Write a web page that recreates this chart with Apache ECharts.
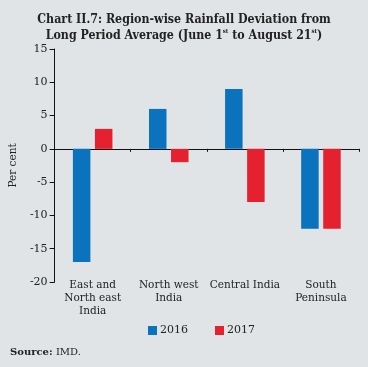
<!DOCTYPE html>
<html><head><meta charset="utf-8">
<script src="https://cdn.jsdelivr.net/npm/echarts@6/dist/echarts.min.js"></script>
<style>html,body{margin:0;padding:0;background:#e1e4e6;}#c{width:368px;height:367px;}</style>
</head><body><div id="c"></div>
<script>
var categories = ['East and\nNorth east\nIndia', 'North west\nIndia', 'Central India', 'South\nPeninsula'];
var values2016 = [-17, 6, 9, -12];
var values2017 = [3, -2, -8, -12];
var yTicks = {min: -20, max: 15, interval: 5};
var FONT = 'DejaVu Serif';
var TFONT = 'DejaVu Serif Condensed';
var chart = echarts.init(document.getElementById('c'), null, {renderer: 'canvas'});
chart.setOption({
  backgroundColor: '#e1e4e6',
  animation: false,
  title: {
    text: '{b|Chart II.7: Region-wise Rainfall Deviation from}\n{b|Long Period Average (June 1}{s|st}{b| to August 21}{s|st}{b|)}',
    left: 'center', top: 7,
    textStyle: {
      rich: {
        b: {fontFamily: TFONT, fontWeight: 'bold', fontSize: 12.3, color: '#222', lineHeight: 16},
        s: {fontFamily: TFONT, fontWeight: 'bold', fontSize: 6, color: '#222', verticalAlign: 'top', lineHeight: 16, padding: [0,0,6,0]}
      }
    }
  },
  graphic: [{
    type: 'text', left: 10, top: 346,
    style: {
      text: '{b|Source:} {n|IMD.}',
      rich: {
        b: {fontFamily: FONT, fontWeight: 'bold', fontSize: 10, fill: '#222'},
        n: {fontFamily: FONT, fontSize: 10, fill: '#222'}
      }
    }
  }],
  legend: {
    top: 325, left: 148, padding: 0, itemWidth: 9, itemHeight: 9, itemGap: 27,
    icon: 'rect',
    textStyle: {fontFamily: FONT, fontSize: 11, color: '#222', padding: [0,0,0,-2]},
    data: ['2016', '2017']
  },
  grid: {left: 47, right: 9, top: 49, bottom: 85},
  xAxis: [{
    type: 'category', data: categories, position: 'bottom',
    axisLine: {show: false, onZero: false}, axisTick: {show: false},
    axisLabel: {fontFamily: FONT, fontSize: 10.5, color: '#222', margin: -3, lineHeight: 13, interval: 0}
  }, {
    type: 'category', data: categories, position: 'bottom',
    axisLine: {show: true, onZero: true, lineStyle: {color: '#111', width: 1}},
    axisTick: {show: true, length: 3, interval: 0, lineStyle: {color: '#111'}}, axisLabel: {show: false}
  }],
  yAxis: {
    type: 'value', min: yTicks.min, max: yTicks.max, interval: yTicks.interval,
    name: 'Per cent', nameLocation: 'middle', nameGap: 27,
    nameTextStyle: {fontFamily: FONT, fontSize: 10.5, color: '#222'},
    axisLine: {show: true, lineStyle: {color: '#111'}},
    axisTick: {show: true, length: 5, lineStyle: {color: '#111'}},
    splitLine: {show: false},
    axisLabel: {fontFamily: FONT, fontSize: 11, color: '#222', margin: 7}
  },
  series: [
    {name: '2016', type: 'bar', data: values2016, itemStyle: {color: '#0b72bd'}, barWidth: 17.5, barGap: '26%'},
    {name: '2017', type: 'bar', data: values2017, itemStyle: {color: '#e5202f'}, barWidth: 17.5, barGap: '26%'}
  ]
});
</script></body></html>
